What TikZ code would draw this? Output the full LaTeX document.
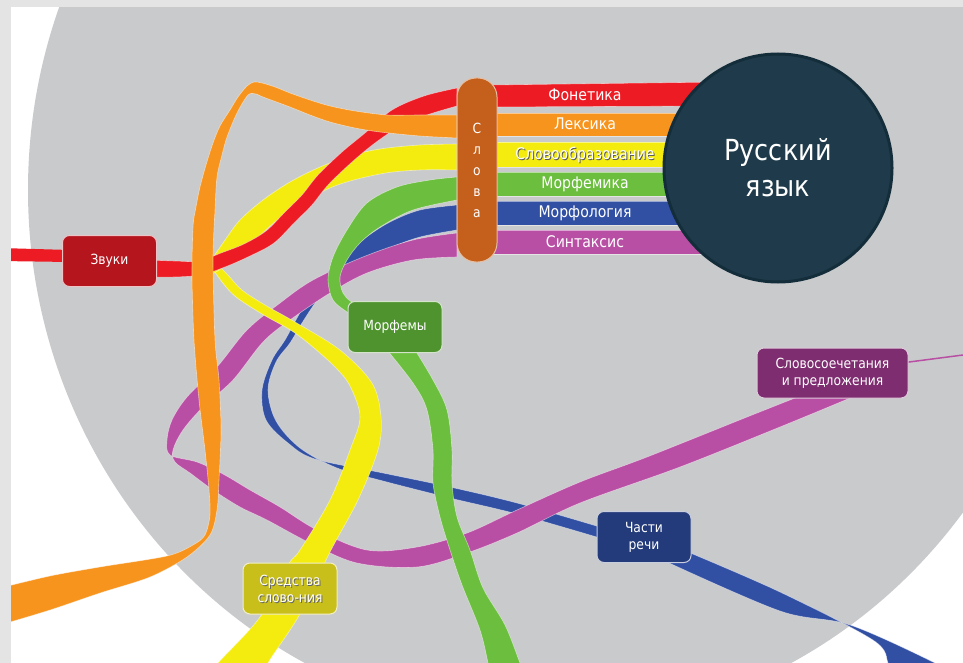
\documentclass[tikz,border=0pt]{standalone}
\usepackage{fontspec}
\newfontfamily\tah[FakeStretch=0.88]{DejaVu Sans}
\definecolor{framegray}{HTML}{E4E4E4}
\definecolor{bggray}{HTML}{C9CACC}
\definecolor{cred}{HTML}{ED1C24}
\definecolor{corange}{HTML}{F7941D}
\definecolor{cyellow}{HTML}{F4EC0E}
\definecolor{cgreen}{HTML}{6CBE3F}
\definecolor{cblue}{HTML}{3250A3}
\definecolor{cpurple}{HTML}{B94FA4}
\definecolor{cpill}{HTML}{C45F1C}
\definecolor{cnavy}{HTML}{1F3B4B}
\definecolor{cnavyb}{HTML}{142D3A}
\definecolor{bzvuki}{HTML}{B5151D}
\definecolor{bmorf}{HTML}{4F932F}
\definecolor{bchasti}{HTML}{243B7B}
\definecolor{bslovo}{HTML}{7E2D70}
\definecolor{bsred}{HTML}{C9BF1B}
\begin{document}
\begin{tikzpicture}[x=1pt,y=-1pt,
  rib/.style={draw=white, draw opacity=0.5, line width=0.6pt},
  lbl/.style={rounded corners=7pt, draw=white!75!#1, line width=1pt, fill=#1, text=white, align=center, minimum width=94pt, minimum height=51pt, inner sep=2pt, font=\tah\fontsize{14}{17}\selectfont},
  bandtxt/.style={text=white, font=\tah\fontsize{16}{18}\selectfont, inner sep=0pt},
  shadowtxt/.style={text=black!65, font=\tah\fontsize{16}{18}\selectfont, inner sep=0pt}
]
\useasboundingbox (0,0) rectangle (963,663);
\begin{scope}
\clip (0,0) rectangle (963,663);
\fill[white] (0,0) rectangle (963,663);
\fill[bggray] (548,190) ellipse[x radius=520, y radius=535];

% ---- blue (Morfologiya)
\filldraw[fill=cblue,rib] plot[smooth,tension=.55] coordinates {(457,205) (420,210) (390,222) (365,238) (345,255) (328,272) (312,292) (297,318) (285,340) (272,360) (262,390) (266,420) (288,443) (315,459) (383,473) (450,487) (517,503) (600,527)}
  -- plot[smooth,tension=.55] coordinates {(600,538) (517,514) (450,498) (383,481) (337,468) (300,448) (276,421) (268,390) (276,362) (290,343) (302,323) (318,299) (335,281) (360,263) (390,248) (420,237) (457,230)} -- cycle;
\filldraw[fill=cblue,rib] plot[smooth,tension=.55] coordinates {(688,552) (780,592) (873,640) (888,663) (890,670)}
  -- plot[smooth,tension=.55] coordinates {(942,670) (935,663) (850,625) (780,611) (667,562)} -- cycle;

% ---- purple (Sintaksis)
\coordinate (pend) at (963,355);
\filldraw[fill=cpurple,rib] plot[smooth,tension=.55] coordinates {(457,233) (413,240) (363,257) (313,280) (280,303) (247,330) (217,367) (187,397) (172,420) (167,440) (170,455) (197,462) (223,474) (250,490) (280,507) (317,530) (367,550) (417,547) (467,533) (517,510) (580,482) (647,457) (747,417) (800,396)}
  -- plot[smooth,tension=.55] coordinates {(855,396) (780,427) (680,467) (580,503) (517,533) (467,553) (417,567) (357,563) (310,543) (267,520) (240,507) (213,490) (190,473) (175,462) (173,450) (183,430) (203,407) (233,380) (263,342) (290,320) (330,293) (367,273) (413,260) (457,257)} -- cycle;

% ---- green (Morfemika)
\filldraw[fill=cgreen,rib] plot[smooth,tension=.55] coordinates {(457,177) (430,180) (397,187) (367,203) (347,230) (333,257) (328,280) (333,300) (347,312) (362,322)}
  -- plot[smooth,tension=.55] coordinates {(382,322) (353,303) (343,293) (340,277) (347,260) (360,243) (380,227) (413,210) (457,200)} -- cycle;
\filldraw[fill=cgreen,rib] plot[smooth,tension=.55] coordinates {(383,345) (413,383) (427,410) (433,450) (433,483) (440,517) (450,550) (462,585) (480,630) (488,663) (489,670)}
  -- plot[smooth,tension=.55] coordinates {(523,670) (520,663) (505,625) (483,588) (470,550) (457,517) (452,483) (452,450) (447,410) (433,380) (412,345)} -- cycle;

% ---- yellow (Slovoobrazovanie)
\filldraw[fill=cyellow,rib] plot[smooth,tension=.55] coordinates {(208,262) (222,282) (236,297) (262,314) (292,331) (314,348) (336,368) (350,386) (360,417) (350,450) (330,500) (300,550) (288,565) (260,617) (218,663) (215,670)}
  -- plot[smooth,tension=.55] coordinates {(270,670) (268,663) (300,614) (330,552) (358,500) (378,450) (381,417) (372,383) (340,350) (295,322) (265,305) (242,290) (228,275) (215,262)} -- cycle;
\filldraw[fill=cyellow,rib] plot[smooth,tension=.55] coordinates {(457,144) (420,145) (380,149) (350,156) (320,167) (290,182) (263,200) (240,220) (225,240) (210,262)}
  -- plot[smooth,tension=.55] coordinates {(212,274) (222,268) (247,248) (280,218) (330,188) (380,174) (420,170) (457,170)} -- cycle;

% ---- red (Fonetika)
\fill[cred] (0,248) -- (70,250) -- (70,262) -- (0,261) -- cycle;
\filldraw[fill=cred,rib] plot[smooth,tension=.55] coordinates {(457,88) (424,96) (392,110) (365,133) (342,152) (318,175) (302,195) (285,212) (266,231) (244,244) (221,253) (199,261) (175,261) (150,260)}
  -- plot[smooth,tension=.55] coordinates {(150,277) (175,277) (201,275) (225,267) (250,256) (274,243) (295,222) (312,205) (328,185) (352,162) (375,143) (399,127) (427,115) (457,106)} -- cycle;

% ---- orange (Leksika)
\filldraw[fill=corange,rib] plot[smooth,tension=.5] coordinates {(457,115) (420,115) (387,115) (355,111) (330,106) (310,100) (290,93) (275,87) (262,83) (254,82) (247,86) (238,97) (230,110) (220,126) (213,143) (206,165) (200,187) (196,207) (193,227) (192,277) (194,340) (199,400) (205,450) (209,490) (210,515) (205,535) (193,545) (167,556) (100,567) (50,576) (0,588)}
  -- plot[smooth,tension=.5] coordinates {(0,625) (50,610) (100,593) (150,577) (187,557) (210,535) (217,510) (219,480) (221,430) (219,380) (215,340) (213,260) (215,210) (217,177) (222,155) (227,137) (237,113) (248,95) (256,94) (263,97) (290,107) (310,115) (330,122) (355,128) (380,132) (420,136) (457,138)} -- cycle;

% ---- straight bands
\filldraw[fill=cred,rib] (490,85) -- (720,82) -- (720,106) -- (490,107) -- cycle;
\filldraw[fill=corange,rib] (490,113) rectangle (720,136);
\filldraw[fill=cyellow,rib] (490,142) rectangle (720,167);
\filldraw[fill=cgreen,rib] (490,172) rectangle (720,196);
\filldraw[fill=cblue,rib] (490,201) rectangle (720,225);
\filldraw[fill=cpurple,rib] (490,230) rectangle (720,254);

% ---- pill
\node[draw=white!60!cpill, line width=1pt, fill=cpill, rounded corners=19pt, minimum width=40pt, minimum height=184pt, inner sep=0pt, text=white, align=center, font=\tah\fontsize{14}{21}\selectfont] (slova) at (477,170) {С\\л\\о\\в\\а};

% ---- main circle
\node[circle, fill=cnavy, draw=cnavyb, line width=3pt, minimum size=228pt, inner sep=0pt, text=white, align=center, font=\tah\fontsize{29}{36}\selectfont] (rus) at (778,168) {Русский\\язык};

% ---- band labels
\node[bandtxt] (fon) at (585,95) {Фонетика};
\node[bandtxt] (lex) at (585,124) {Лексика};
\node[shadowtxt] at (586,156) {Словообразование};
\node[bandtxt] (slobr) at (585,155) {Словообразование};
\node[bandtxt] (mfk) at (585,184) {Морфемика};
\node[bandtxt] (mfl) at (585,213) {Морфология};
\node[bandtxt] (sin) at (585,242) {Синтаксис};

% ---- boxes
\node[lbl=bzvuki] (zvuki) at (109.5,261) {Звуки};
\node[lbl=bmorf] (morf) at (395,327) {Морфемы};
\node[lbl=bchasti] (chasti) at (644,537) {Части\\речи};
\draw[cpurple, line width=1.5pt] (832,372) -- (pend);
\node[lbl=bslovo, minimum width=151pt, minimum height=50pt] (slovosoch) at (832.5,373) {Словосоечетания\\и предложения};
\node[lbl=bsred] (sred) at (290,588.5) {};
\node[text=black!60, align=center, font=\tah\fontsize{14}{17}\selectfont] at (291,589.5) {Средства\\слово-ния};
\node[text=white, align=center, font=\tah\fontsize{14}{17}\selectfont] at (sred) {Средства\\слово-ния};
\end{scope}
\fill[framegray] (0,0) rectangle (963,7);
\fill[framegray] (0,0) rectangle (11,663);
\end{tikzpicture}
\end{document}
